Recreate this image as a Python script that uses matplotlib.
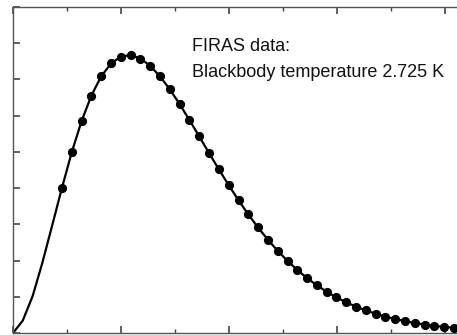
import numpy as np
import matplotlib
matplotlib.use("Agg")
import matplotlib.pyplot as plt
from matplotlib.ticker import MultipleLocator, NullFormatter

# FIRAS monopole spectrum (frequency in cm^-1, intensity in MJy/sr)
freq = [2.27, 2.72, 3.18, 3.63, 4.08, 4.54, 4.99, 5.45, 5.90, 6.35, 6.81,
        7.26, 7.71, 8.17, 8.62, 9.08, 9.53, 9.98, 10.44, 10.89, 11.34, 11.80,
        12.25, 12.71, 13.16, 13.61, 14.07, 14.52, 14.97, 15.43, 15.88, 16.34,
        16.79, 17.24, 17.70, 18.15, 18.61, 19.06, 19.51, 19.97, 20.42, 20.87,
        21.33]
intensity = [200.7, 249.5, 293.0, 327.8, 354.1, 372.1, 381.5, 383.5, 378.9,
             368.8, 354.1, 336.3, 316.1, 293.9, 271.4, 248.2, 225.9, 204.3,
             183.3, 163.8, 145.8, 128.8, 113.6, 99.5, 87.0, 75.9, 65.8, 57.0,
             49.2, 42.3, 36.4, 31.1, 26.6, 22.6, 19.3, 16.4, 13.8, 11.7, 9.9,
             8.4, 7.1, 5.8, 4.5]

# blackbody curve (2.725 K)
curve_freq = [0.0, 0.45, 0.91, 1.36, 1.81] + freq
curve_int = [0.0, 17.0, 51.0, 97.0, 148.0] + intensity

fig = plt.figure(figsize=(4.57, 3.35), dpi=100)
W, H = 457, 335
x0, y_bot, y_top = 13, 333, 7
ax = fig.add_axes([x0 / W, (H - y_bot) / H, 1 - x0 / W, (y_bot - y_top) / H])

ax.plot(curve_freq, curve_int, color="black", lw=1.6, zorder=2)
ax.plot(freq, intensity, "o", color="black", ms=5.6, zorder=3)

ax.set_xlim(0, (W - x0) / 21.6)
ax.set_ylim(0, 450)

ax.xaxis.set_major_locator(MultipleLocator(5))
ax.xaxis.set_minor_locator(MultipleLocator(2.5))
ax.yaxis.set_major_locator(MultipleLocator(50))
ax.xaxis.set_major_formatter(NullFormatter())
ax.yaxis.set_major_formatter(NullFormatter())
ax.tick_params(which="both", direction="in", top=True, bottom=True,
               left=True, right=False, color="#444444")
ax.tick_params(which="major", length=5, width=1.2)
ax.tick_params(which="minor", length=3, width=1.0)
for s in ["left", "bottom", "top"]:
    ax.spines[s].set_color("#555555")
    ax.spines[s].set_linewidth(1.0)
ax.spines["right"].set_visible(False)

fig.text(192 / W, 1 - 51 / H, "FIRAS data:", fontsize=13,
         family="Liberation Sans", color="#111111")
fig.text(192 / W, 1 - 77 / H, "Blackbody temperature 2.725 K", fontsize=13,
         family="Liberation Sans", color="#111111")

fig.savefig("out.png", dpi=100)
